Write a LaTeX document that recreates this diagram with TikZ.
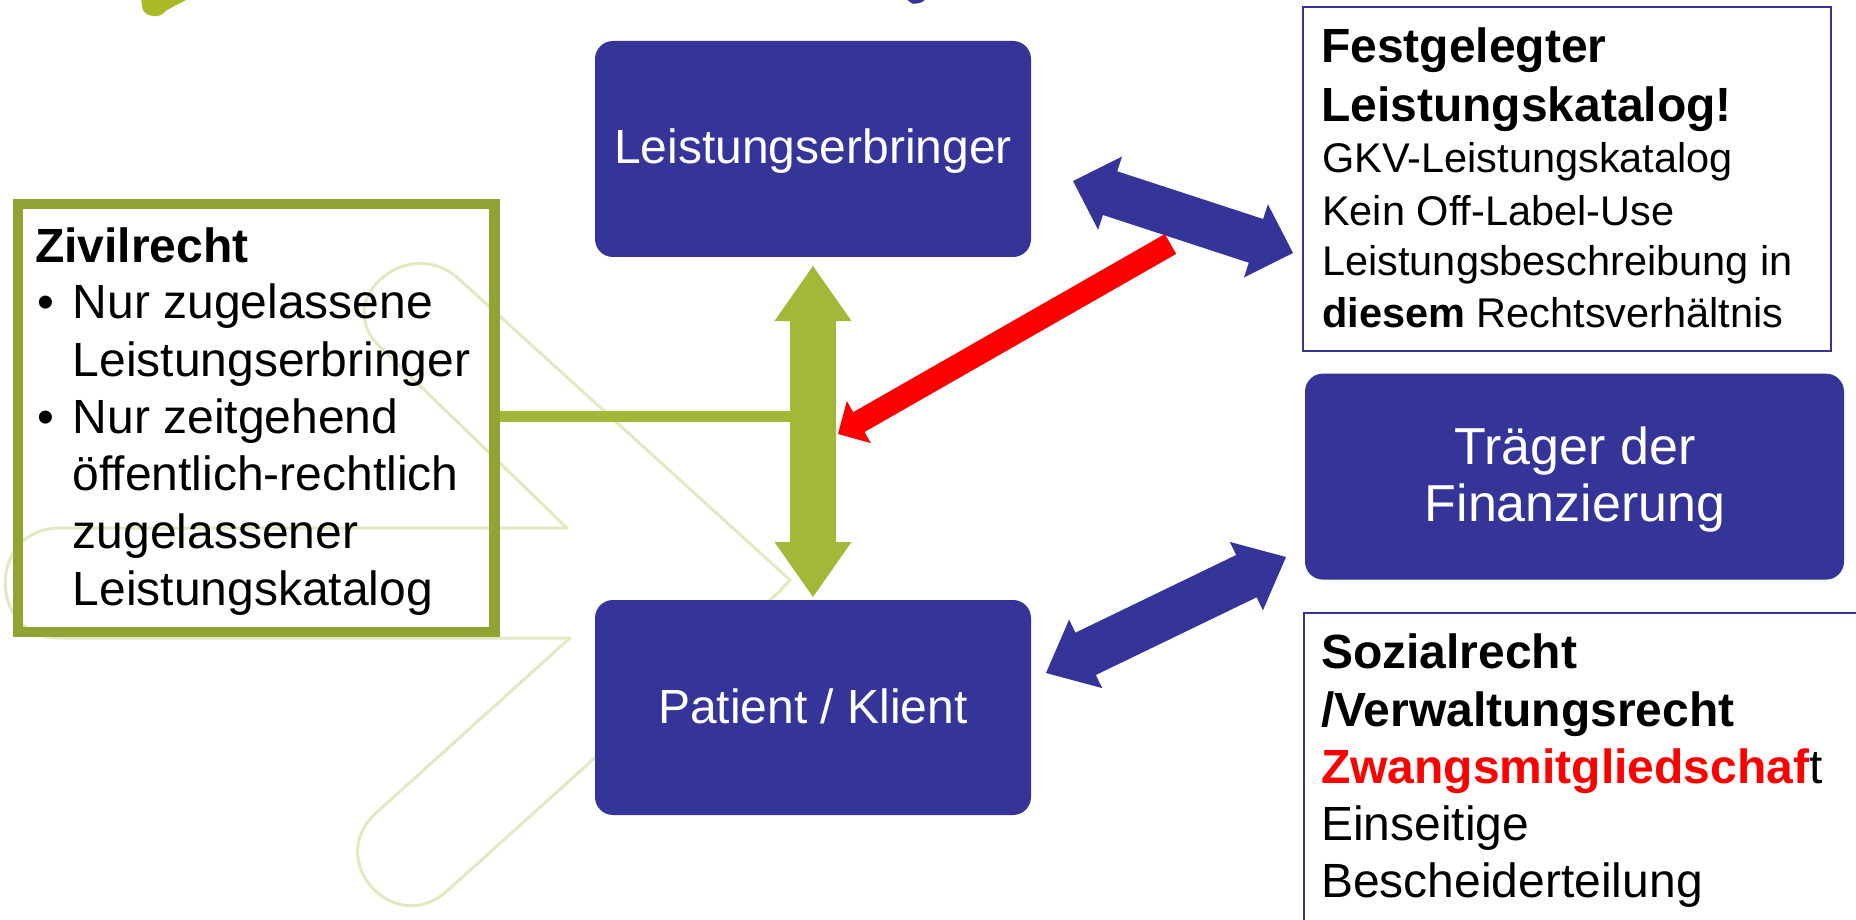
\documentclass[tikz,border=0pt]{standalone}
\usepackage{fontspec}
\setmainfont{Liberation Sans}
\usetikzlibrary{calc}
\definecolor{kblue}{RGB}{53,52,152}
\definecolor{agreen}{RGB}{165,183,57}
\definecolor{bgreen}{RGB}{144,164,52}
\definecolor{wmark}{RGB}{226,233,192}
\definecolor{lgreen}{RGB}{170,186,36}
% double block arrow: style, A, B, head length, shaft half width, head half width
\newcommand{\dblblock}[6]{%
  \coordinate (da) at ($(#2)!#4!(#3)$);
  \coordinate (db) at ($(#3)!#4!(#2)$);
  \fill[#1] (#2) -- ($(da)!#6!90:(#3)$) -- ($(da)!#5!90:(#3)$)
    -- ($(db)!#5!-90:(#2)$) -- ($(db)!#6!-90:(#2)$) -- (#3)
    -- ($(db)!#6!90:(#2)$) -- ($(db)!#5!90:(#2)$)
    -- ($(da)!#5!-90:(#3)$) -- ($(da)!#6!-90:(#3)$) -- cycle;}
% single block arrow: style, tail, tip, head length, shaft half width, head half width
\newcommand{\oneblock}[6]{%
  \coordinate (sa) at ($(#3)!#4!(#2)$);
  \fill[#1] ($(#2)!#5!90:(#3)$) -- ($(sa)!#5!90:(#3)$) -- ($(sa)!#6!90:(#3)$)
    -- (#3) -- ($(sa)!#6!-90:(#3)$) -- ($(sa)!#5!-90:(#3)$)
    -- ($(#2)!#5!-90:(#3)$) -- cycle;}
\begin{document}
\begin{tikzpicture}[x=1pt,y=-1pt,
  wm/.style={draw=wmark, line width=3pt, line join=round},
  bbox/.style={fill=kblue, rounded corners=18pt, inner sep=0pt, outer sep=0pt},
  wtxt/.style={text=white, inner sep=0pt, anchor=base},
  t48/.style={anchor=base west, inner sep=0pt, font=\fontsize{48}{57}\selectfont},
  t42/.style={anchor=base west, inner sep=0pt, font=\fontsize{41.5}{50}\selectfont},
  frame/.style={draw=kblue, line width=2pt, inner sep=0pt, outer sep=0pt}]
\useasboundingbox (0,0) rectangle (1856,920);
\fill[white] (0,0) rectangle (1856,920);

% faint watermark outline
\draw[wm] (460,280) -- (790,580) -- (779,592) -- (447,891)
  .. controls (394.5,938.4) and (323.5,860.4) .. (376,813) -- (570,638) -- (60,638)
  .. controls (-13,638) and (-13,528) .. (60,528) -- (567,528) -- (380,347)
  .. controls (330,299) and (410,232) .. (460,280) -- cycle;

% cut-off fragments at the top edge
\fill[lgreen] (141,-1) -- (142.5,8) .. controls (144,15) and (152,17) .. (158,16)
  .. controls (162,15) and (164,13) .. (167,10) -- (188,-1) -- cycle;
\fill[kblue] (906,-1) -- (926,-1) .. controls (922,3) and (918,4) .. (912,3.5) -- cycle;

% Zivilrecht box
\node[draw=bgreen, line width=10.5pt, minimum width=476.5pt, minimum height=427.5pt, inner sep=0pt] (zb) at (256,418) {};
\node[t48] (z0) at (35,262) {\textbf{Zivilrecht}};
\node[t48] (zb1) at (37,318) {•};
\node[t48] (z1) at (72.5,318) {Nur zugelassene};
\node[t48] (z2) at (72.5,376) {Leistungserbringer};
\node[t48] (zb2) at (37,433) {•};
\node[t48] (z3) at (72.5,433) {Nur zeitgehend};
\node[t48] (z4) at (72.5,490) {öffentlich-rechtlich};
\node[t48] (z5) at (72.5,548) {zugelassener};
\node[t48] (z6) at (72.5,605) {Leistungskatalog};

% blue boxes
\node[bbox, minimum width=436pt, minimum height=216pt] (lb) at (813,149) {};
\node[wtxt, font=\fontsize{48}{48}\selectfont] (lbt) at (813,164) {Leistungserbringer};
\node[bbox, minimum width=436pt, minimum height=215pt] (pk) at (813,707.5) {};
\node[wtxt, font=\fontsize{48}{48}\selectfont] (pkt) at (813,723) {Patient / Klient};
\node[bbox, minimum width=539pt, minimum height=206pt] (tf) at (1574.5,476.6) {};
\node[wtxt, font=\fontsize{52}{52}\selectfont] (tf1) at (1575,464) {Träger der};
\node[wtxt, font=\fontsize{52}{52}\selectfont] (tf2) at (1575,521) {Finanzierung};

% Festgelegter box
\node[frame, minimum width=528pt, minimum height=343pt] (fk) at (1567,179) {};
\node[t48] (f1) at (1321,63) {\textbf{Festgelegter}};
\node[t48] (f2) at (1321,122) {\textbf{Leistungskatalog!}};
\node[t42] (f3) at (1322,173) {GKV-Leistungskatalog};
\node[t42] (f4) at (1322,226) {Kein Off-Label-Use};
\node[t42] (f5) at (1322,276) {Leistungsbeschreibung in};
\node[t42] (f6) at (1322,327) {\textbf{diesem} Rechtsverhältnis};

% Sozialrecht box (runs off the page)
\node[frame, minimum width=600pt, minimum height=400pt, anchor=north west] (sr) at (1304,613) {};
\node[t48] (s1) at (1321,668) {\textbf{Sozialrecht}};
\node[t48] (s2) at (1321,726) {\textbf{/Verwaltungsrecht}};
\node[t48] (s3) at (1321,783) {\textcolor{red}{\textbf{Zwangsmitgliedschaf}}t};
\node[t48] (s4) at (1321,840) {Einseitige};
\node[t48] (s5) at (1321,897) {Bescheiderteilung};

% green connector and double arrow
\coordinate (gl) at (792,416);
\draw[agreen, line width=11pt] (zb.east |- gl) -- (gl);
\coordinate (gT) at ($(lb.south)+(0,9)$);
\coordinate (gB) at ($(pk.north)+(0,-3)$);
\dblblock{fill=agreen}{gT}{gB}{55pt}{23pt}{38.5pt}

% blue double arrows
\coordinate (b1a) at (1073,181);
\coordinate (b1b) at (1293,253);
\dblblock{fill=kblue}{b1a}{b1b}{39pt}{23pt}{38.5pt}
\coordinate (b2a) at (1046,673);
\coordinate (b2b) at (1286,557);
\dblblock{fill=kblue}{b2a}{b2b}{44pt}{23.5pt}{38pt}

% red arrow
\coordinate (rT) at (1170.5,244);
\coordinate (rP) at (838,434);
\oneblock{fill=red}{rT}{rP}{24pt}{11.4pt}{24.2pt}
\end{tikzpicture}
\end{document}
